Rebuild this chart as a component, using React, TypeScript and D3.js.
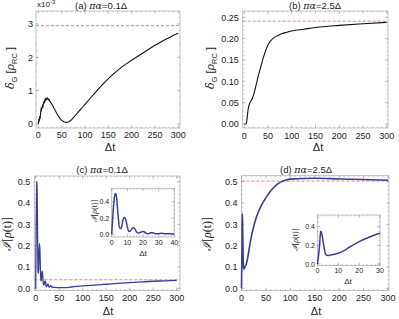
import React from 'react';
import * as d3 from 'd3';

// (a) delta_G, pi*alpha = 0.1 Delta, values in units of 1e-3
const aT = [0, 1, 2, 3, 4, 5, 6, 7, 8, 9, 10, 11, 12, 13, 14, 15, 16, 17, 18, 19, 20, 21, 22, 23, 24, 25,
  28, 30, 33, 36, 40, 44, 48, 52, 56, 60, 64, 68, 72, 76, 80, 85, 90, 95, 100, 110, 120, 130, 140, 150,
  160, 170, 180, 190, 200, 210, 220, 230, 240, 250, 260, 270, 280, 290, 300];
const aV = [0, 0.12, 0.1, 0.2, 0.18, 0.35, 0.45, 0.42, 0.5, 0.55, 0.52, 0.62, 0.66, 0.64, 0.72, 0.7, 0.76, 0.73, 0.74, 0.78, 0.75, 0.76, 0.72, 0.73, 0.7, 0.68,
  0.62, 0.57, 0.49, 0.41, 0.31, 0.22, 0.14, 0.09, 0.06, 0.05, 0.06, 0.09, 0.14, 0.2, 0.27, 0.35, 0.43, 0.51, 0.59, 0.75, 0.91, 1.07, 1.22, 1.36,
  1.49, 1.61, 1.72, 1.82, 1.91, 2.0, 2.09, 2.18, 2.27, 2.36, 2.44, 2.52, 2.59, 2.66, 2.72];
const aRef = 2.95;

// (b) delta_G, pi*alpha = 2.5 Delta
const bT = [0, 3, 5, 7, 9, 12, 16, 20, 25, 30, 35, 40, 45, 50, 55, 60, 70, 80, 90, 100, 125, 150, 200, 250, 300];
const bV = [0, 0, 0.005, 0.025, 0.04, 0.05, 0.058, 0.07, 0.092, 0.115, 0.135, 0.155, 0.172, 0.185, 0.194, 0.2, 0.207, 0.212, 0.215, 0.218, 0.222, 0.226, 0.231, 0.235, 0.238];
const bRef = 0.241;

// (c) I[rho(t)], pi*alpha = 0.1 Delta
const cT = [0, 1, 2, 2.5, 3, 4, 5, 6, 7, 8, 9, 10, 11, 12, 13, 14, 15, 16, 17, 18, 19, 20, 21, 22, 23, 24, 25, 26, 27, 28, 30, 32, 34, 36, 38, 40,
  50, 60, 75, 100, 125, 150, 175, 200, 225, 250, 275, 300];
const cV = [0, 0.3, 0.48, 0.5, 0.47, 0.25, 0.08, 0.07, 0.16, 0.21, 0.18, 0.09, 0.035, 0.04, 0.07, 0.08, 0.06, 0.025, 0.015, 0.02, 0.03, 0.035, 0.028, 0.012, 0.008, 0.012, 0.018, 0.02, 0.014, 0.006, 0.008, 0.012, 0.006, 0.006, 0.005, 0.004,
  0.003, 0.003, 0.006, 0.011, 0.015, 0.019, 0.023, 0.027, 0.03, 0.033, 0.035, 0.037];
const cRef = 0.04;

// (d) I[rho(t)], pi*alpha = 2.5 Delta
const dT = [0, 1, 1.5, 2, 3, 4, 5, 6, 7, 8, 10, 12, 15, 20, 25, 30, 35, 40, 50, 60, 70, 80, 90, 100, 150, 200, 250, 300];
const dV = [0, 0.2, 0.35, 0.33, 0.2, 0.1, 0.09, 0.095, 0.1, 0.105, 0.115, 0.135, 0.175, 0.24, 0.29, 0.33, 0.36, 0.385, 0.425, 0.458, 0.482, 0.498, 0.507, 0.512, 0.516, 0.513, 0.51, 0.507];
const dRef = 0.503;

const xMajorMain = [0, 50, 100, 150, 200, 250, 300];
const aYTicks = [0, 1, 2, 3];
const bYTicks = [0, 0.05, 0.1, 0.15, 0.2, 0.25];
const cdYTicks = [0, 0.1, 0.2, 0.3, 0.4, 0.5];
const cInsetX = [0, 10, 20, 30, 40];
const dInsetX = [0, 10, 20, 30];
const insetY = [0, 0.2, 0.4];

const BLUE = '#3b3b9c';
const RED = '#ec5a5a';
const FONT = "'Liberation Sans', Arial, sans-serif";

type Box = { x0: number; x1: number; y0: number; y1: number };

function Frame({ box, x, y, xMajor, xMinorStep, yMajor, yMinorStep, fmtY, fs, gap, labelX = true }: any) {
  const xmin = x.invert(box.x0), xmax = x.invert(box.x1);
  const ymin = y.invert(box.y1), ymax = y.invert(box.y0);
  const xMinor = d3.range(Math.ceil(xmin / xMinorStep) * xMinorStep, xmax + 1e-9, xMinorStep);
  const yMinor = d3.range(Math.ceil(ymin / yMinorStep - 1e-9) * yMinorStep, ymax + 1e-9, yMinorStep);
  const tc = '#9a9a9a';
  return (
    <g>
      <rect x={box.x0} y={box.y0} width={box.x1 - box.x0} height={box.y1 - box.y0} fill="none" stroke="#b4b4b4" strokeWidth={0.8} />
      {xMinor.map((t: number, i: number) => (
        <g key={'xm' + i} stroke={tc} strokeWidth={0.5}>
          <line x1={x(t)} x2={x(t)} y1={box.y1} y2={box.y1 - 1.5} />
          <line x1={x(t)} x2={x(t)} y1={box.y0} y2={box.y0 + 1.5} />
        </g>
      ))}
      {xMajor.map((t: number, i: number) => (
        <g key={'xM' + i} stroke={tc} strokeWidth={0.6}>
          <line x1={x(t)} x2={x(t)} y1={box.y1} y2={box.y1 - 3} />
          <line x1={x(t)} x2={x(t)} y1={box.y0} y2={box.y0 + 3} />
        </g>
      ))}
      {yMinor.map((v: number, i: number) => (
        <g key={'ym' + i} stroke={tc} strokeWidth={0.5}>
          <line x1={box.x0} x2={box.x0 + 1.5} y1={y(v)} y2={y(v)} />
          <line x1={box.x1} x2={box.x1 - 1.5} y1={y(v)} y2={y(v)} />
        </g>
      ))}
      {yMajor.map((v: number, i: number) => (
        <g key={'yM' + i} stroke={tc} strokeWidth={0.6}>
          <line x1={box.x0} x2={box.x0 + 3} y1={y(v)} y2={y(v)} />
          <line x1={box.x1} x2={box.x1 - 3} y1={y(v)} y2={y(v)} />
        </g>
      ))}
      {labelX && xMajor.map((t: number, i: number) => (
        <text key={'xl' + i} x={x(t)} y={box.y1 + gap + fs * 0.75} textAnchor="middle" fontSize={fs} fill="#222">{t}</text>
      ))}
      {yMajor.map((v: number, i: number) => (
        <text key={'yl' + i} x={box.x0 - gap} y={y(v) + fs * 0.36} textAnchor="end" fontSize={fs} fill="#222">{fmtY(v)}</text>
      ))}
    </g>
  );
}

function curvePath(x: any, y: any, T: number[], V: number[], smooth: boolean) {
  const pts = T.map((t, i) => [t, V[i]] as [number, number]);
  const gen = d3.line<[number, number]>().x(d => x(d[0])).y(d => y(d[1]))
    .curve(smooth ? d3.curveMonotoneX : d3.curveLinear);
  return gen(pts) || '';
}

function DeltaLabel({ cx, cy }: { cx: number; cy: number }) {
  return (
    <text transform={`translate(${cx},${cy}) rotate(-90)`} textAnchor="middle" fontSize={11} fill="#222">
      <tspan fontStyle="italic" fontFamily="'DejaVu Serif', serif">δ</tspan>
      <tspan fontSize={7.5} dy={2.5}>G</tspan>
      <tspan dy={-2.5}> [</tspan>
      <tspan fontStyle="italic" fontFamily="'DejaVu Serif', serif">ρ</tspan>
      <tspan fontSize={7.5} dy={2.5}>RC</tspan>
      <tspan dy={-2.5}> ]</tspan>
    </text>
  );
}

function ILabel({ cx, cy, fs }: { cx: number; cy: number; fs: number }) {
  return (
    <text transform={`translate(${cx},${cy}) rotate(-90)`} textAnchor="middle" fontSize={fs} fill="#222" fontFamily="'Liberation Serif', serif">
      <tspan fontStyle="italic">ℐ</tspan>
      <tspan>[</tspan>
      <tspan fontStyle="italic">ρ</tspan>
      <tspan>(t)]</tspan>
    </text>
  );
}

function Title({ cx, cy, tag, val }: { cx: number; cy: number; tag: string; val: string }) {
  return (
    <text x={cx} y={cy} textAnchor="middle" fontSize={9.5} fill="#222">
      <tspan>({tag}) </tspan>
      <tspan fontStyle="italic" fontFamily="'DejaVu Serif', serif">πα</tspan>
      <tspan>={val}Δ</tspan>
    </text>
  );
}

export default function App() {
  // panel (a)
  const aBox: Box = { x0: 36, x1: 180, y0: 11, y1: 128 };
  const ax = d3.scaleLinear().domain([0, 300]).range([38.3, 178.3]);
  const ay = d3.scaleLinear().domain([0, 3]).range([124, 24]);
  // panel (b)
  const bBox: Box = { x0: 242.7, x1: 388, y0: 11, y1: 128 };
  const bx = d3.scaleLinear().domain([0, 300]).range([244.3, 386.7]);
  const by = d3.scaleLinear().domain([0, 0.25]).range([124, 17.3]);
  // panel (c)
  const cBox: Box = { x0: 34.3, x1: 180, y0: 176, y1: 290.5 };
  const cx = d3.scaleLinear().domain([0, 300]).range([35.7, 176.7]);
  const cy = d3.scaleLinear().domain([0, 0.5]).range([288.3, 181.7]);
  // panel (d)
  const dBox: Box = { x0: 241.5, x1: 389, y0: 175.7, y1: 290.5 };
  const dx = d3.scaleLinear().domain([0, 300]).range([241.5, 388]);
  const dy = d3.scaleLinear().domain([0, 0.5]).range([288.3, 181.7]);
  // insets
  const ciBox: Box = { x0: 111.7, x1: 174.3, y0: 188.3, y1: 237 };
  const cix = d3.scaleLinear().domain([0, 40]).range([111.7, 174.3]);
  const ciy = d3.scaleLinear().domain([0, 0.4]).range([234.3, 201.7]);
  const diBox: Box = { x0: 317.5, x1: 380, y0: 215, y1: 265.5 };
  const dix = d3.scaleLinear().domain([0, 30]).range([317.5, 380]);
  const diy = d3.scaleLinear().domain([0, 0.4]).range([264, 226.7]);

  const f1 = (v: number) => d3.format('.1f')(v);
  const f2 = (v: number) => d3.format('.2f')(v);
  const cInsetMask = cT.map(t => t <= 40);
  const dInsetMask = dT.map(t => t <= 30);

  return (
    <svg width={399} height={319} style={{ position: 'absolute', left: 0, top: 0, fontFamily: FONT }}>
      <rect width={399} height={319} fill="#fff" />

      {/* (a) */}
      <Frame box={aBox} x={ax} y={ay} xMajor={xMajorMain} xMinorStep={10} yMajor={aYTicks} yMinorStep={0.2} fmtY={(v: number) => String(v)} fs={9} gap={3} />
      <line x1={aBox.x0} x2={aBox.x1} y1={ay(aRef)} y2={ay(aRef)} stroke={RED} strokeWidth={0.8} strokeDasharray="3,2" />
      <path d={curvePath(ax, ay, aT, aV, false)} fill="none" stroke="#111" strokeWidth={1.1} />
      <text x={37} y={7} fontSize={8} fill="#222">x10<tspan fontSize={6} dy={-3}>-3</tspan></text>
      <Title cx={101} cy={9} tag="a" val="0.1" />
      <DeltaLabel cx={14} cy={68} />
      <text x={110} y={151} textAnchor="middle" fontSize={11} fill="#222">Δt</text>

      {/* (b) */}
      <Frame box={bBox} x={bx} y={by} xMajor={xMajorMain} xMinorStep={10} yMajor={bYTicks} yMinorStep={0.01} fmtY={f2} fs={9} gap={4} />
      <line x1={bBox.x0} x2={bBox.x1} y1={by(bRef)} y2={by(bRef)} stroke={RED} strokeWidth={0.8} strokeDasharray="3,2" />
      <path d={curvePath(bx, by, bT, bV, true)} fill="none" stroke="#111" strokeWidth={1.1} />
      <Title cx={315} cy={9} tag="b" val="2.5" />
      <DeltaLabel cx={214} cy={68} />
      <text x={318} y={151} textAnchor="middle" fontSize={11} fill="#222">Δt</text>

      {/* (c) */}
      <Frame box={cBox} x={cx} y={cy} xMajor={xMajorMain} xMinorStep={10} yMajor={cdYTicks} yMinorStep={0.02} fmtY={f1} fs={9} gap={4} />
      <line x1={cBox.x0} x2={cBox.x1} y1={cy(cRef)} y2={cy(cRef)} stroke={RED} strokeWidth={0.8} strokeDasharray="3,2" />
      <path d={curvePath(cx, cy, cT, cV, true)} fill="none" stroke={BLUE} strokeWidth={1.3} />
      <Title cx={102} cy={173} tag="c" val="0.1" />
      <ILabel cx={11} cy={234} fs={12} />
      <text x={108} y={315} textAnchor="middle" fontSize={11} fill="#222">Δt</text>

      <rect x={ciBox.x0} y={ciBox.y0} width={ciBox.x1 - ciBox.x0} height={ciBox.y1 - ciBox.y0} fill="#fff" />
      <Frame box={ciBox} x={cix} y={ciy} xMajor={cInsetX} xMinorStep={2} yMajor={insetY} yMinorStep={0.05} fmtY={f1} fs={7} gap={2.5} />
      <path d={curvePath(cix, ciy, cT.filter((_, i) => cInsetMask[i]), cV.filter((_, i) => cInsetMask[i]), true)} fill="none" stroke={BLUE} strokeWidth={1.5} />
      <ILabel cx={97} cy={211} fs={8} />
      <text x={143} y={256} textAnchor="middle" fontSize={8} fill="#222">Δt</text>

      {/* (d) */}
      <Frame box={dBox} x={dx} y={dy} xMajor={xMajorMain} xMinorStep={10} yMajor={cdYTicks} yMinorStep={0.02} fmtY={f1} fs={9} gap={4} />
      <line x1={dBox.x0} x2={dBox.x1} y1={dy(dRef)} y2={dy(dRef)} stroke={RED} strokeWidth={0.8} strokeDasharray="3,2" />
      <path d={curvePath(dx, dy, dT, dV, true)} fill="none" stroke={BLUE} strokeWidth={1.6} />
      <Title cx={306} cy={173} tag="d" val="2.5" />
      <ILabel cx={211} cy={234} fs={12} />
      <text x={316} y={315} textAnchor="middle" fontSize={11} fill="#222">Δt</text>

      <rect x={diBox.x0} y={diBox.y0} width={diBox.x1 - diBox.x0} height={diBox.y1 - diBox.y0} fill="#fff" />
      <Frame box={diBox} x={dix} y={diy} xMajor={dInsetX} xMinorStep={2} yMajor={insetY} yMinorStep={0.05} fmtY={f1} fs={7} gap={2.5} />
      <path d={curvePath(dix, diy, dT.filter((_, i) => dInsetMask[i]), dV.filter((_, i) => dInsetMask[i]), true)} fill="none" stroke={BLUE} strokeWidth={1.5} />
      <ILabel cx={298} cy={240} fs={8} />
      <text x={348} y={284} textAnchor="middle" fontSize={8} fill="#222">Δt</text>
    </svg>
  );
}
